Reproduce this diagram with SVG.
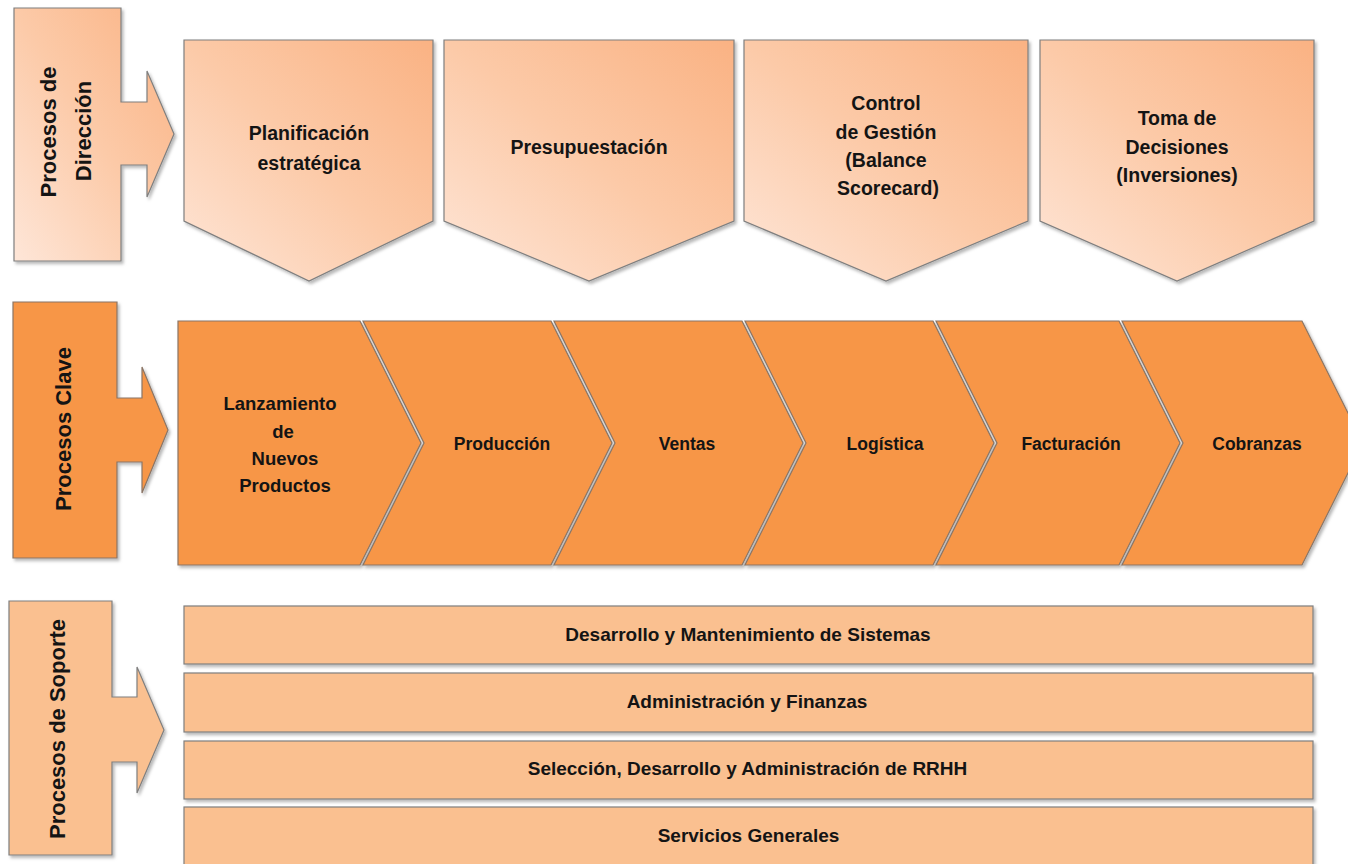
<svg xmlns="http://www.w3.org/2000/svg" width="1348" height="864" viewBox="0 0 1348 864">
  <defs>
    <linearGradient id="gDir" x1="0" y1="1" x2="1" y2="0">
      <stop offset="0" stop-color="#fee6d8"/>
      <stop offset="0.5" stop-color="#fccaa8"/>
      <stop offset="1" stop-color="#fab283"/>
    </linearGradient>
    <filter id="sh" x="-5%" y="-5%" width="115%" height="115%">
      <feDropShadow dx="2" dy="2.5" stdDeviation="1.5" flood-color="#000" flood-opacity="0.28"/>
    </filter>
  </defs>
  <style>
    .shape { stroke: #7f7f7f; stroke-width: 1.2; filter: url(#sh); stroke-linejoin: miter; }
    .dir { fill: url(#gDir); }
    .clave { fill: #f79646; stroke: #8a7566; }
    .sop { fill: #fac090; }
    text { font-family: "Liberation Sans", Arial, sans-serif; font-weight: bold; fill: #141414; text-anchor: middle; }
    .t1 { font-size: 19.5px; }
    .t2 { font-size: 17.5px; }
    .t2b { font-size: 18.5px; }
    .t3 { font-size: 19px; }
    .lab { font-size: 22px; }
  </style>
  <rect width="1348" height="864" fill="#ffffff"/>

  <!-- Row 1: Procesos de Dirección -->
  <g id="procesos-direccion">
    <path class="shape dir" d="M14,8 H121 V102 H147 V71 L174,134 L147,197 V165 H121 V261 H14 Z"/>
    <text class="lab" transform="translate(56,132) rotate(-90)">Procesos de</text>
    <text class="lab" transform="translate(91,131) rotate(-90)">Dirección</text>
  </g>
  <g id="planificacion">
    <path class="shape dir" d="M184,40 H433 V221 L309,281 L184,221 Z"/>
    <text class="t1" x="309" y="140">Planificación</text>
    <text class="t1" x="309" y="170">estratégica</text>
  </g>
  <g id="presupuestacion">
    <path class="shape dir" d="M444,40 H734 V221 L589,281 L444,221 Z"/>
    <text class="t1" x="589" y="154">Presupuestación</text>
  </g>
  <g id="control-gestion">
    <path class="shape dir" d="M744,40 H1028 V221 L886,281 L744,221 Z"/>
    <text class="t1" x="886" y="110">Control</text>
    <text class="t1" x="886" y="139">de Gestión</text>
    <text class="t1" x="886" y="167">(Balance</text>
    <text class="t1" x="888" y="195">Scorecard)</text>
  </g>
  <g id="toma-decisiones">
    <path class="shape dir" d="M1040,40 H1314 V221 L1177,281 L1040,221 Z"/>
    <text class="t1" x="1177" y="125">Toma de</text>
    <text class="t1" x="1177" y="154">Decisiones</text>
    <text class="t1" x="1177" y="182">(Inversiones)</text>
  </g>

  <!-- Row 2: Procesos Clave -->
  <g id="procesos-clave">
    <path class="shape clave" d="M13,302 H117 V398 H142 V367 L168,430 L142,493 V462 H117 V558 H13 Z"/>
    <text class="lab" transform="translate(71,429) rotate(-90)">Procesos Clave</text>
  </g>
  <g id="lanzamiento">
    <path class="shape clave" d="M178,321 H360 L421,443 L360,565 H178 Z"/>
    <text class="t2b" x="280" y="410">Lanzamiento</text>
    <text class="t2b" x="283" y="437.5">de</text>
    <text class="t2b" x="285" y="465">Nuevos</text>
    <text class="t2b" x="285" y="491.5">Productos</text>
  </g>
  <g id="produccion">
    <path class="shape clave" d="M363,321 H551 L612,443 L551,565 H363 L424,443 Z"/>
    <text class="t2" x="502" y="449.5">Producción</text>
  </g>
  <g id="ventas">
    <path class="shape clave" d="M554,321 H742 L803,443 L742,565 H554 L615,443 Z"/>
    <text class="t2" x="687" y="449.5">Ventas</text>
  </g>
  <g id="logistica">
    <path class="shape clave" d="M745,321 H933 L994,443 L933,565 H745 L806,443 Z"/>
    <text class="t2" x="885" y="449.5">Logística</text>
  </g>
  <g id="facturacion">
    <path class="shape clave" d="M936,321 H1119 L1180,443 L1119,565 H936 L997,443 Z"/>
    <text class="t2" x="1071" y="449.5">Facturación</text>
  </g>
  <g id="cobranzas">
    <path class="shape clave" d="M1122,321 H1302 L1363,443 L1302,565 H1122 L1183,443 Z"/>
    <text class="t2" x="1257" y="449.5">Cobranzas</text>
  </g>

  <!-- Row 3: Procesos de Soporte -->
  <g id="procesos-soporte">
    <path class="shape sop" d="M9,601 H112 V697 H137 V667 L164,730 L137,793 V762 H112 V855 H9 Z"/>
    <text class="lab" transform="translate(65,729) rotate(-90)">Procesos de Soporte</text>
  </g>
  <g id="desarrollo-sistemas">
    <rect class="shape sop" x="184" y="606" width="1129" height="58"/>
    <text class="t3" x="748" y="640.5">Desarrollo y Mantenimiento de Sistemas</text>
  </g>
  <g id="administracion-finanzas">
    <rect class="shape sop" x="184" y="673" width="1129" height="59"/>
    <text class="t3" x="747" y="707.5">Administración y Finanzas</text>
  </g>
  <g id="rrhh">
    <rect class="shape sop" x="184" y="741" width="1129" height="58"/>
    <text class="t3" x="747.5" y="774.5">Selección, Desarrollo y Administración de RRHH</text>
  </g>
  <g id="servicios-generales">
    <rect class="shape sop" x="184" y="807" width="1129" height="66"/>
    <text class="t3" x="748.5" y="841.5">Servicios Generales</text>
  </g>

  <g id="connectors"/>
</svg>
